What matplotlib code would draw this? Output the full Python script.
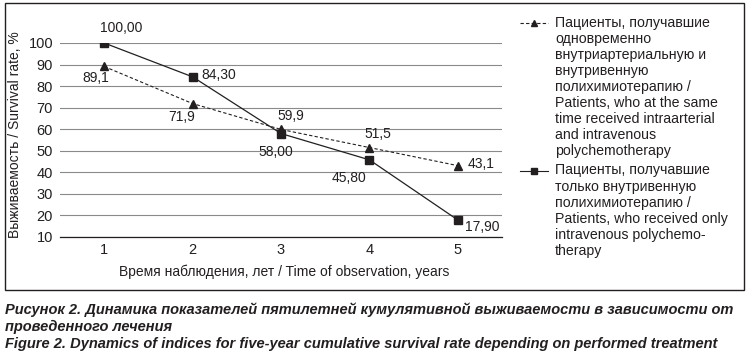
import matplotlib.pyplot as plt
from matplotlib.lines import Line2D
from matplotlib.patches import Rectangle

# данные
years = [1, 2, 3, 4, 5]
both_vals = [89.1, 71.9, 59.9, 51.5, 43.1]        # в/а + в/в
iv_vals = [100.00, 84.30, 58.00, 45.80, 17.90]    # только в/в
both_txt = ['89,1', '71,9', '59,9', '51,5', '43,1']
iv_txt = ['100,00', '84,30', '58,00', '45,80', '17,90']
yticks = [10, 20, 30, 40, 50, 60, 70, 80, 90, 100]

both_label = ('Пациенты, получавшие\nодновременно\nвнутриартериальную и\nвнутривенную\n'
              'полихимиотерапию /\nPatients, who at the same\ntime received intraarterial\n'
              'and intravenous\npolychemotherapy')
iv_label = ('Пациенты, получавшие\nтолько внутривенную\nполихимиотерапию /\n'
            'Patients, who received only\nintravenous polychemo-\ntherapy')

ylabel = 'Выживаемость / Survival rate, %'
xlabel = 'Время наблюдения, лет / Time of observation, years'
caption = ['Рисунок 2. Динамика показателей пятилетней кумулятивной выживаемости в зависимости от',
           'проведенного лечения',
           'Figure 2. Dynamics of indices for five-year cumulative survival rate depending on performed treatment']

plt.rcParams['font.family'] = ['Liberation Sans', 'DejaVu Sans']
plt.rcParams['font.size'] = 10
ink = '#231f20'

W, H = 747, 357
fig = plt.figure(figsize=(W / 100, H / 100), dpi=100)
ax = fig.add_axes([60 / W, 1 - 237 / H, 442 / W, 194 / H])

ax.plot(years, both_vals, ls=(0, (3, 2)), lw=0.8, color=ink, marker='^', ms=6, zorder=3)
ax.plot(years, iv_vals, ls='-', lw=0.9, color=ink, marker='s', ms=6, zorder=3)

# подписи значений (смещения в пунктах)
iv_off = [((12, 11), 'center'), ((6, 1), 'left'), ((-4, -13), 'center'), ((-15, -13), 'center'), ((5, -5), 'left')]
both_off = [((-6, -8), 'center'), ((-8, -10), 'center'), ((7, 10), 'center'), ((6, 10), 'center'), ((7, 1), 'left')]
for x, v, t, (o, ha) in zip(years, iv_vals, iv_txt, iv_off):
    ax.annotate(t, (x, v), xytext=o, textcoords='offset points', ha=ha, va='center', color=ink)
for x, v, t, (o, ha) in zip(years, both_vals, both_txt, both_off):
    ax.annotate(t, (x, v), xytext=o, textcoords='offset points', ha=ha, va='center', color=ink)

ax.set_xlim(0.5, 5.5)
ax.set_ylim(10, 100)
ax.set_yticks(yticks)
ax.set_xticks(years)
ax.yaxis.grid(True, color='#8a8a8a', lw=0.8)
ax.set_axisbelow(True)
for s in ['top', 'right', 'left']:
    ax.spines[s].set_visible(False)
ax.spines['bottom'].set_color(ink)
ax.spines['bottom'].set_linewidth(0.9)
ax.tick_params(length=0, colors=ink, labelsize=10.5)
ax.tick_params(axis='x', pad=4)
ax.tick_params(axis='y', pad=5)
fig.text(15 / W, 1 - 135 / H, ylabel, rotation=90, ha='center', va='center', color=ink)
fig.text(284 / W, 1 - 272 / H, xlabel, ha='center', va='center', color=ink)

# легенда вручную
for ls, mk, lbl, ytop in [((0, (3, 2)), '^', both_label, 23), ('-', 's', iv_label, 171)]:
    fig.add_artist(Line2D([520 / W, 548 / W], [1 - ytop / H] * 2, ls=ls, lw=0.8, color=ink))
    fig.add_artist(Line2D([534 / W], [1 - ytop / H], marker=mk, ms=5, color=ink))
    fig.text(555 / W, 1 - (ytop - 7.5) / H, lbl, ha='left', va='top', fontsize=10.2,
             linespacing=1.19, color=ink)

# рамка
fig.add_artist(Rectangle((5 / W, 1 - 290 / H), 739 / W, 287 / H, fill=False,
                         ec=ink, lw=1.0, transform=fig.transFigure))

# подпись к рисунку
cap_font = ['Liberation Sans Narrow', 'Liberation Sans', 'DejaVu Sans']
for t, y in zip(caption, [310, 327, 344]):
    fig.text(5 / W, 1 - y / H, t, ha='left', va='center', fontsize=10.5, fontweight='bold',
             fontstyle='italic', family=cap_font, color=ink)

fig.savefig('out.png', dpi=100)
